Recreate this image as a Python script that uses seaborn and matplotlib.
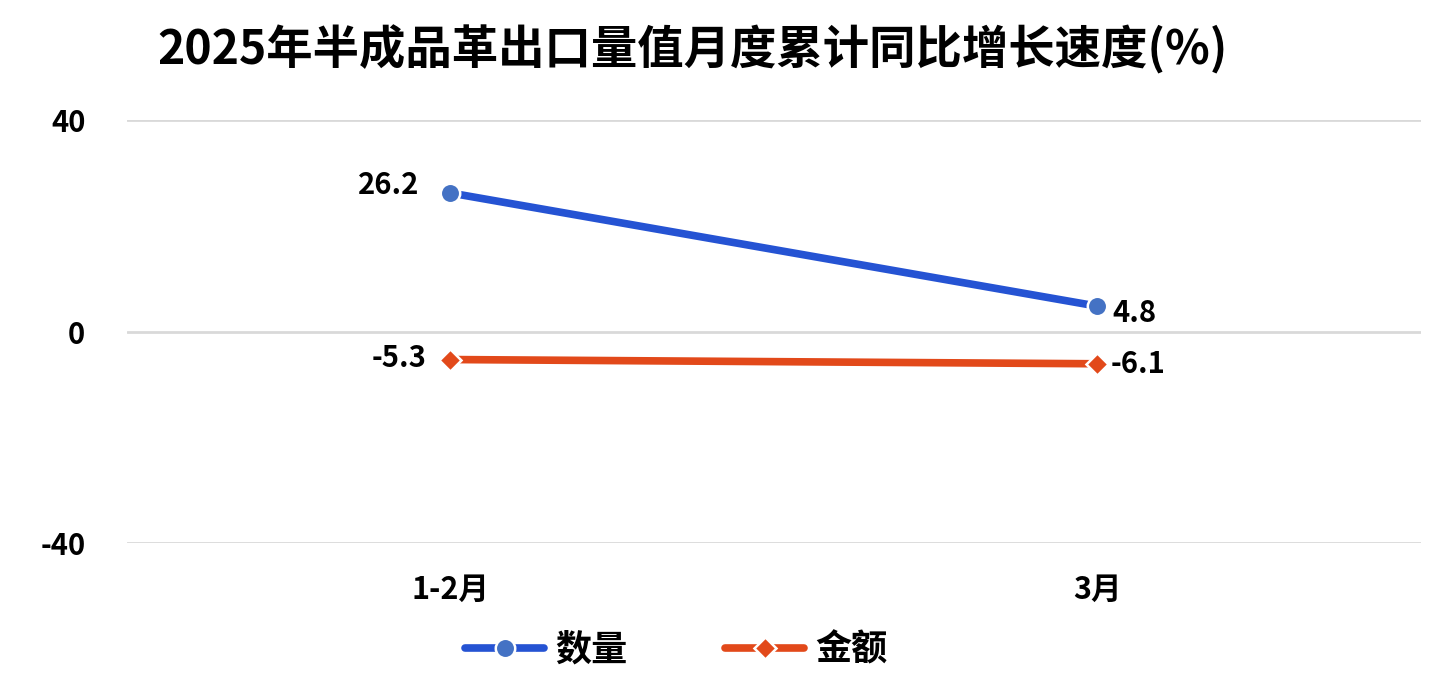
import matplotlib
matplotlib.use("Agg")
import matplotlib.pyplot as plt
import seaborn as sns
import pandas as pd
from matplotlib.lines import Line2D

categories = ["1-2月", "3月"]
qty = [26.2, 4.8]
amount = [-5.3, -6.1]
series_names = ["数量", "金额"]
yticks = [-40, 0, 40]

df = pd.DataFrame({
    "cat": categories * 2,
    "x": [0, 1, 0, 1],
    "val": qty + amount,
    "series": [series_names[0]] * 2 + [series_names[1]] * 2,
})

sns.set_style("white")
plt.rcParams['font.family'] = ['Noto Sans CJK SC', 'DejaVu Sans']
plt.rcParams['text.color'] = 'black'
plt.rcParams['xtick.color'] = 'black'
plt.rcParams['ytick.color'] = 'black'

BLUE = "#2553D3"
BLUE_M = "#4472C4"
ORANGE = "#E2491A"

fig = plt.figure(figsize=(14.54, 6.81), dpi=100)
ax = fig.add_axes([0.0873, 0.2026, 0.8897, 0.6212])

palette = {"数量": BLUE, "金额": ORANGE}
sns.lineplot(data=df, x="x", y="val", hue="series", style="series",
             palette=palette, markers={"数量": "o", "金额": "D"}, dashes=False,
             linewidth=5.5, markersize=14, markeredgecolor="white", markeredgewidth=1.8,
             ax=ax, legend=False, zorder=3)
ax.lines[0].set_markerfacecolor(BLUE_M)
ax.lines[1].set_markersize(11)

ax.set_xlim(-0.5, 1.5)
ax.set_ylim(-40, 40)
ax.set_yticks(yticks)
ax.set_yticklabels([str(v) for v in yticks], fontsize=21, fontweight="bold")
ax.set_xticks([0, 1])
ax.set_xticklabels(categories, fontsize=22, fontweight="bold")
ax.tick_params(axis="x", pad=22, length=0)
ax.tick_params(axis="y", pad=30, length=0)
ax.grid(axis="y", color="#D9D9D9", linewidth=2)
for s in ax.spines.values():
    s.set_visible(False)
ax.set_xlabel("")
ax.set_ylabel("")

# data labels
ax.annotate(f"{qty[0]}", (0, qty[0]), xytext=(-22, 6), textcoords="offset points",
            ha="right", va="center", fontsize=21, fontweight="bold")
ax.annotate(f"{qty[1]}", (1, qty[1]), xytext=(11, -5), textcoords="offset points",
            ha="left", va="center", fontsize=21, fontweight="bold")
ax.annotate(f"{amount[0]}", (0, amount[0]), xytext=(-17, 1), textcoords="offset points",
            ha="right", va="center", fontsize=21, fontweight="bold")
ax.annotate(f"{amount[1]}", (1, amount[1]), xytext=(10, 0), textcoords="offset points",
            ha="left", va="center", fontsize=21, fontweight="bold")

fig.text(0.108, 0.927, "2025年半成品革出口量值月度累计同比增长速度(%)",
         fontsize=33.4, fontweight="bold", ha="left", va="center")

handles = [
    Line2D([], [], color=BLUE, linewidth=5.5, marker="o", markersize=14,
           markerfacecolor=BLUE_M, markeredgecolor="white", markeredgewidth=1.8,
           solid_capstyle="round"),
    Line2D([], [], color=ORANGE, linewidth=5.5, marker="D", markersize=11,
           markeredgecolor="white", markeredgewidth=1.8, solid_capstyle="round"),
]
fig.legend(handles, series_names, loc="center", bbox_to_anchor=(0.465, 0.0455),
           ncol=2, frameon=False, handlelength=2.2, handletextpad=0.3,
           columnspacing=2.7, prop={"size": 26, "weight": "bold"})

fig.savefig("out.png", dpi=100, facecolor="white")
